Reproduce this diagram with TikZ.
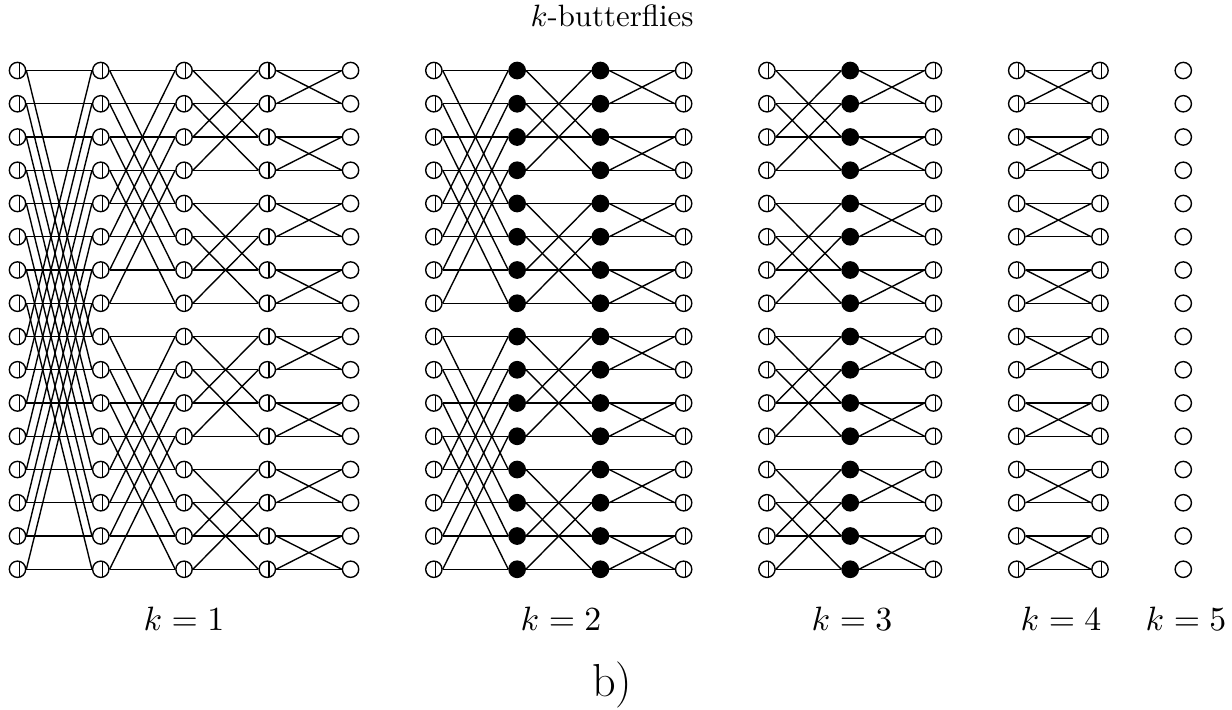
\documentclass[tikz,border=0pt]{standalone}
\usepackage{amsmath}

\tikzset{
  vertex/.style={circle, draw, inner sep=0pt, minimum size=0.186cm},
  halfnode/.style={vertex, path picture={\draw ([xshift=0.02cm]path picture bounding box.north) -- ([xshift=0.02cm]path picture bounding box.south);}},
  fullnode/.style={vertex, fill=black},
  emptynode/.style={vertex},
  caption/.style={anchor=base, inner sep=0pt}
}

\begin{document}
\begin{tikzpicture}[x=0.0114cm, y=-0.0114cm, line width=0.45pt]
\useasboundingbox (0,0) rectangle (1232,709);
% vertices: column / kind
\foreach \c/\kind in {0/halfnode,1/halfnode,2/halfnode,3/halfnode,4/emptynode,
                      5/halfnode,6/fullnode,7/fullnode,8/halfnode,
                      9/halfnode,10/fullnode,11/halfnode,
                      12/halfnode,13/halfnode,14/emptynode}
  \foreach \r in {0,...,15}
    \node[\kind] (n-\c-\r) at ({17.5+83.27*\c},{70.5+33.25*\r}) {};
% butterfly stages: column / stride
\foreach \c/\s in {0/8,1/4,2/2,3/1,5/4,6/2,7/1,9/2,10/1,12/1} {
  \pgfmathtruncatemacro\d{\c+1}
  \foreach \r in {0,...,15} {
    \pgfmathtruncatemacro\p{mod(floor(\r/\s),2)==0 ? \r+\s : \r-\s}
    \draw (n-\c-\r.east) -- (n-\d-\r.west);
    \draw (n-\c-\r.east) -- (n-\d-\p.west);
  }
}
% labels
\node[caption] (title) at (612,26) {$k$-butterflies};
\node[caption, font=\fontsize{10.5}{12}\selectfont] (k1) at (184,630) {$k=1$};
\node[caption, font=\fontsize{10.5}{12}\selectfont] (k2) at (561,630) {$k=2$};
\node[caption, font=\fontsize{10.5}{12}\selectfont] (k3) at (852,630) {$k=3$};
\node[caption, font=\fontsize{10.5}{12}\selectfont] (k4) at (1061,630) {$k=4$};
\node[caption, font=\fontsize{10.5}{12}\selectfont] (k5) at (1186,630) {$k=5$};
\node[caption, font=\fontsize{15}{18}\selectfont] (part) at (612,696) {b)};
\end{tikzpicture}
\end{document}
